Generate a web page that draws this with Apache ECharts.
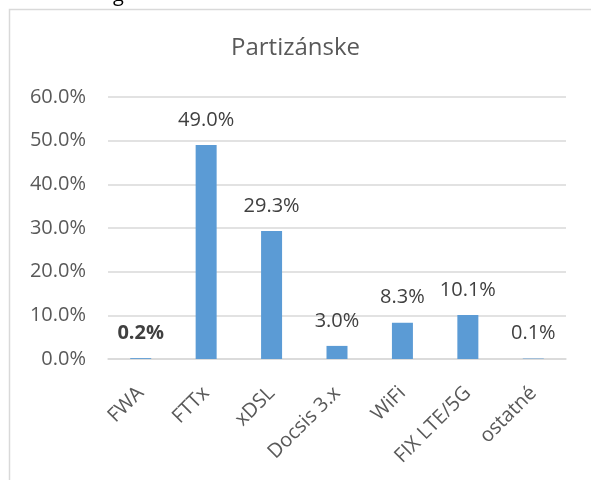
<!DOCTYPE html>
<html>
<head>
<meta charset="utf-8">
<script src="https://cdn.jsdelivr.net/npm/echarts@6/dist/echarts.min.js"></script>
<style>
  html, body { margin: 0; padding: 0; background: #fff; }
  #chart { width: 591px; height: 480px; }
</style>
</head>
<body>
<div id="chart"></div>
<script>
// values (share in %)
const categories = ['FWA', 'FTTx', 'xDSL', 'Docsis 3.x', 'WiFi', 'FIX LTE/5G', 'ostatné']
const shares = [0.2, 49.0, 29.3, 3.0, 8.3, 10.1, 0.1]
const boldLabels = ['FWA'] // Excel had this one label in bold
const yTicks = { min: 0, max: 60, step: 10 }

const font = '"Open Sans", "Noto Sans", sans-serif'
const grey = '#595959'

const chart = echarts.init(document.getElementById('chart'))

chart.setOption({
  animation: false,
  backgroundColor: '#fff',
  textStyle: { fontFamily: font },
  title: {
    text: 'Partizánske',
    left: 'center',
    top: 31,
    textStyle: { fontFamily: font, fontSize: 24, fontWeight: 'normal', color: grey }
  },
  graphic: [
    // frame of the Excel chart area, cut off at right and bottom
    { type: 'rect', shape: { x: 9.5, y: 9.5, width: 700, height: 600 },
      style: { fill: 'none', stroke: '#d9d9d9', lineWidth: 1.5 }, silent: true },
    // tail of a letter from the text above the chart
    { type: 'text', x: 113, y: -15, style: { text: 'g', font: '20px ' + font, fill: '#000' } }
  ],
  grid: { left: 108, right: 25, top: 97, bottom: 121, containLabel: false },
  xAxis: {
    type: 'category',
    data: categories,
    axisLine: { show: true, lineStyle: { color: '#d9d9d9', width: 1.5 } },
    axisTick: { show: false },
    axisLabel: { rotate: 45, margin: 31, color: grey, fontSize: 20, fontFamily: font, interval: 0 }
  },
  yAxis: {
    type: 'value',
    min: yTicks.min,
    max: yTicks.max,
    interval: yTicks.step,
    axisLine: { show: false },
    axisTick: { show: false },
    splitLine: { lineStyle: { color: '#d9d9d9', width: 1.5 } },
    axisLabel: {
      margin: 22, color: grey, fontSize: 20, fontFamily: font,
      formatter: v => v.toFixed(1) + '%'
    }
  },
  series: [{
    type: 'bar',
    barWidth: 21,
    itemStyle: { color: '#5b9bd5' },
    data: shares.map((v, i) => ({
      value: v,
      label: { fontWeight: boldLabels.includes(categories[i]) ? 'bold' : 'normal' }
    })),
    label: {
      show: true,
      position: 'top',
      distance: 15,
      color: '#404040',
      fontSize: 20,
      fontFamily: font,
      formatter: p => p.value.toFixed(1) + '%'
    }
  }]
})
</script>
</body>
</html>
